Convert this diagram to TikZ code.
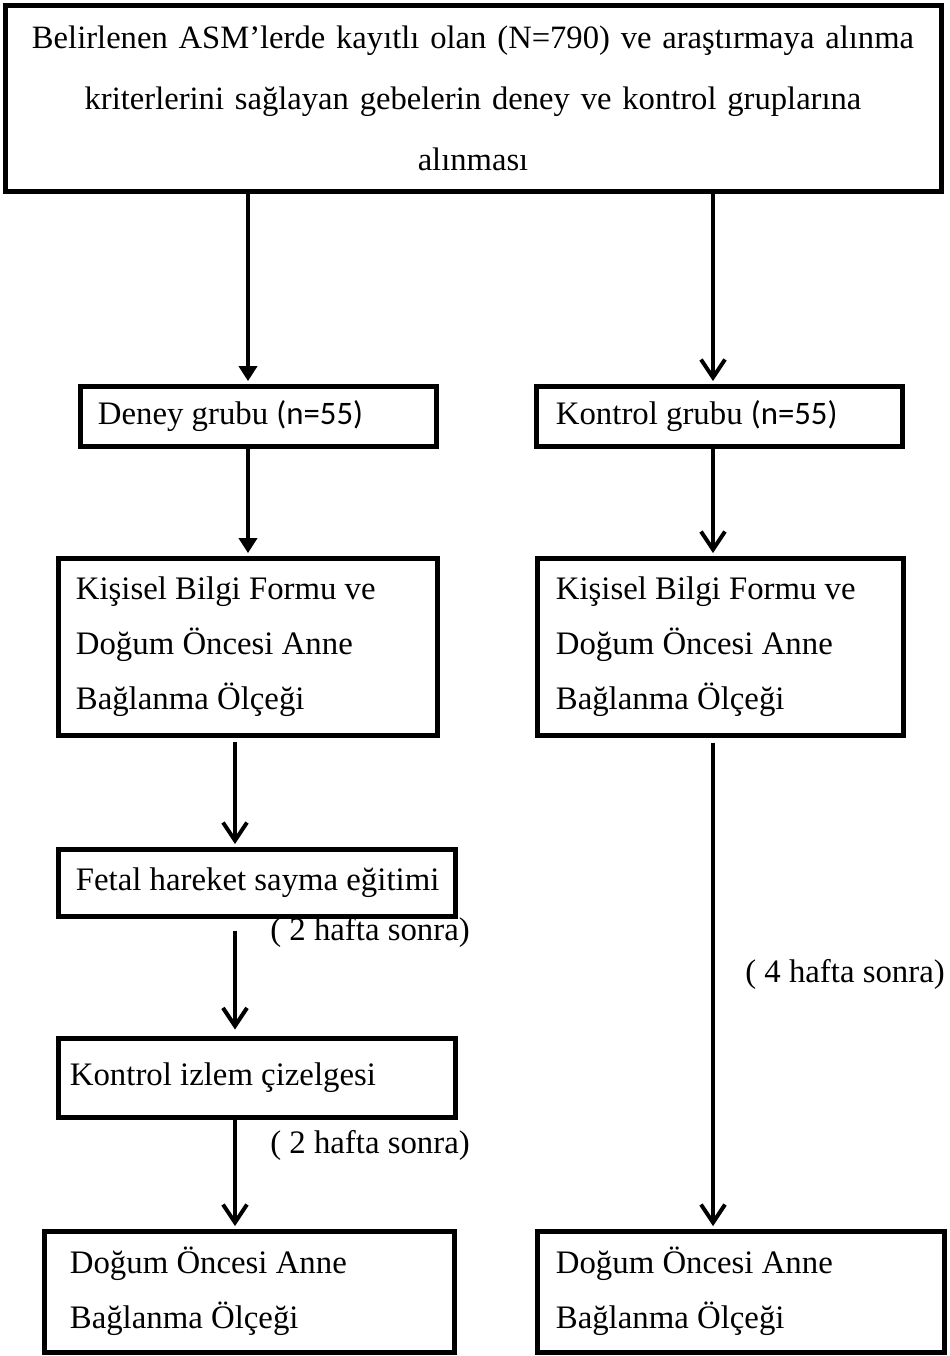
\documentclass[tikz,border=0pt]{standalone}
\usepackage{fontspec}
\setmainfont{Liberation Serif}
\newfontfamily\calfont{Carlito}
\usetikzlibrary{arrows.meta}
\begin{document}
\begin{tikzpicture}[x=0.5pt,y=-0.5pt,
  box/.style={draw, line width=2.5pt, rectangle, inner sep=0pt},
  txt/.style={anchor=west, inner sep=0pt, align=left,
    font=\fontsize{16.4}{27.5}\selectfont},
  fil/.style={-{Triangle[length=7.5pt,width=9pt]}, line width=2pt},
  opn/.style={-{Straight Barb[length=9pt,width=12pt]}, line width=2pt},
  lbl/.style={font=\fontsize{16.4}{20}\selectfont, inner sep=0pt}]
\useasboundingbox (0,0) rectangle (949,1356);

\node[box, align=center, font=\fontsize{16.3}{30.5}\selectfont,
  minimum width=468pt, minimum height=93pt, text width=458pt] (top) at (473,98)
  {Belirlenen ASM’lerde kayıtlı olan (N=790) ve araştırmaya alınma\\
   kriterlerini sağlayan gebelerin deney ve kontrol gruplarına\\
   alınması};

\node[box, minimum width=178pt, minimum height=30pt] (dg) at (258,416) {};
\node[txt] (dgt) at ([xshift=10pt]dg.west) {Deney grubu {\calfont(n=55)}};
\node[box, minimum width=183pt, minimum height=30pt] (kg) at (719,416) {};
\node[txt] (kgt) at ([xshift=11pt]kg.west) {Kontrol grubu {\calfont(n=55)}};

\node[box, minimum width=189.5pt, minimum height=88.5pt] (kL) at (247.5,646.5) {};
\node[txt] (kLt) at ([xshift=10pt]kL.west)
  {Kişisel Bilgi Formu ve\\ Doğum Öncesi Anne\\ Bağlanma Ölçeği};
\node[box, minimum width=183pt, minimum height=88.5pt] (kR) at (720,646.5) {};
\node[txt] (kRt) at ([xshift=10.5pt]kR.west)
  {Kişisel Bilgi Formu ve\\ Doğum Öncesi Anne\\ Bağlanma Ölçeği};

\node[box, minimum width=198.5pt, minimum height=33.5pt] (fe) at (256.5,882.5) {};
\node[txt] (fet) at ([xshift=10pt]fe.west) {Fetal hareket sayma eğitimi};
\node[box, minimum width=198.5pt, minimum height=39.5pt] (kz) at (256.5,1077.5) {};
\node[txt] (kzt) at ([xshift=7pt]kz.west) {Kontrol izlem çizelgesi};

\node[box, minimum width=205pt, minimum height=60.5pt] (bL) at (249,1291.5) {};
\node[txt] (bLt) at ([xshift=14pt]bL.west) {Doğum Öncesi Anne\\ Bağlanma Ölçeği};
\node[box, minimum width=203.5pt, minimum height=60.5pt] (bR) at (740.5,1291.5) {};
\node[txt] (bRt) at ([xshift=10.5pt]bR.west) {Doğum Öncesi Anne\\ Bağlanma Ölçeği};

\node[lbl] (l1) at (370,932) {( 2 hafta sonra)};
\node[lbl] (l2) at (370,1145) {( 2 hafta sonra)};
\node[lbl] (l3) at (845,974) {( 4 hafta sonra)};

\draw[fil, shorten >=1.2pt] (top.south -| 248,0) -- (dg.north -| 248,0);
\draw[opn, shorten >=1.2pt] (top.south -| 713,0) -- (kg.north -| 713,0);
\draw[fil, shorten >=1.2pt] (dg.south -| 248,0) -- (kL.north -| 248,0);
\draw[opn, shorten >=1.2pt] (kg.south -| 713,0) -- (kR.north -| 713,0);
\draw[opn, shorten <=2pt, shorten >=1.2pt] (kL.south -| 235,0) -- (fe.north -| 235,0);
\draw[opn, shorten <=6pt, shorten >=3pt] (fe.south -| 235,0) -- (kz.north -| 235,0);
\draw[opn, shorten >=1.2pt] (kz.south -| 235,0) -- (bL.north -| 235,0);
\draw[opn, shorten <=2.5pt, shorten >=1.2pt] (kR.south -| 713,0) -- (bR.north -| 713,0);
\end{tikzpicture}
\end{document}
